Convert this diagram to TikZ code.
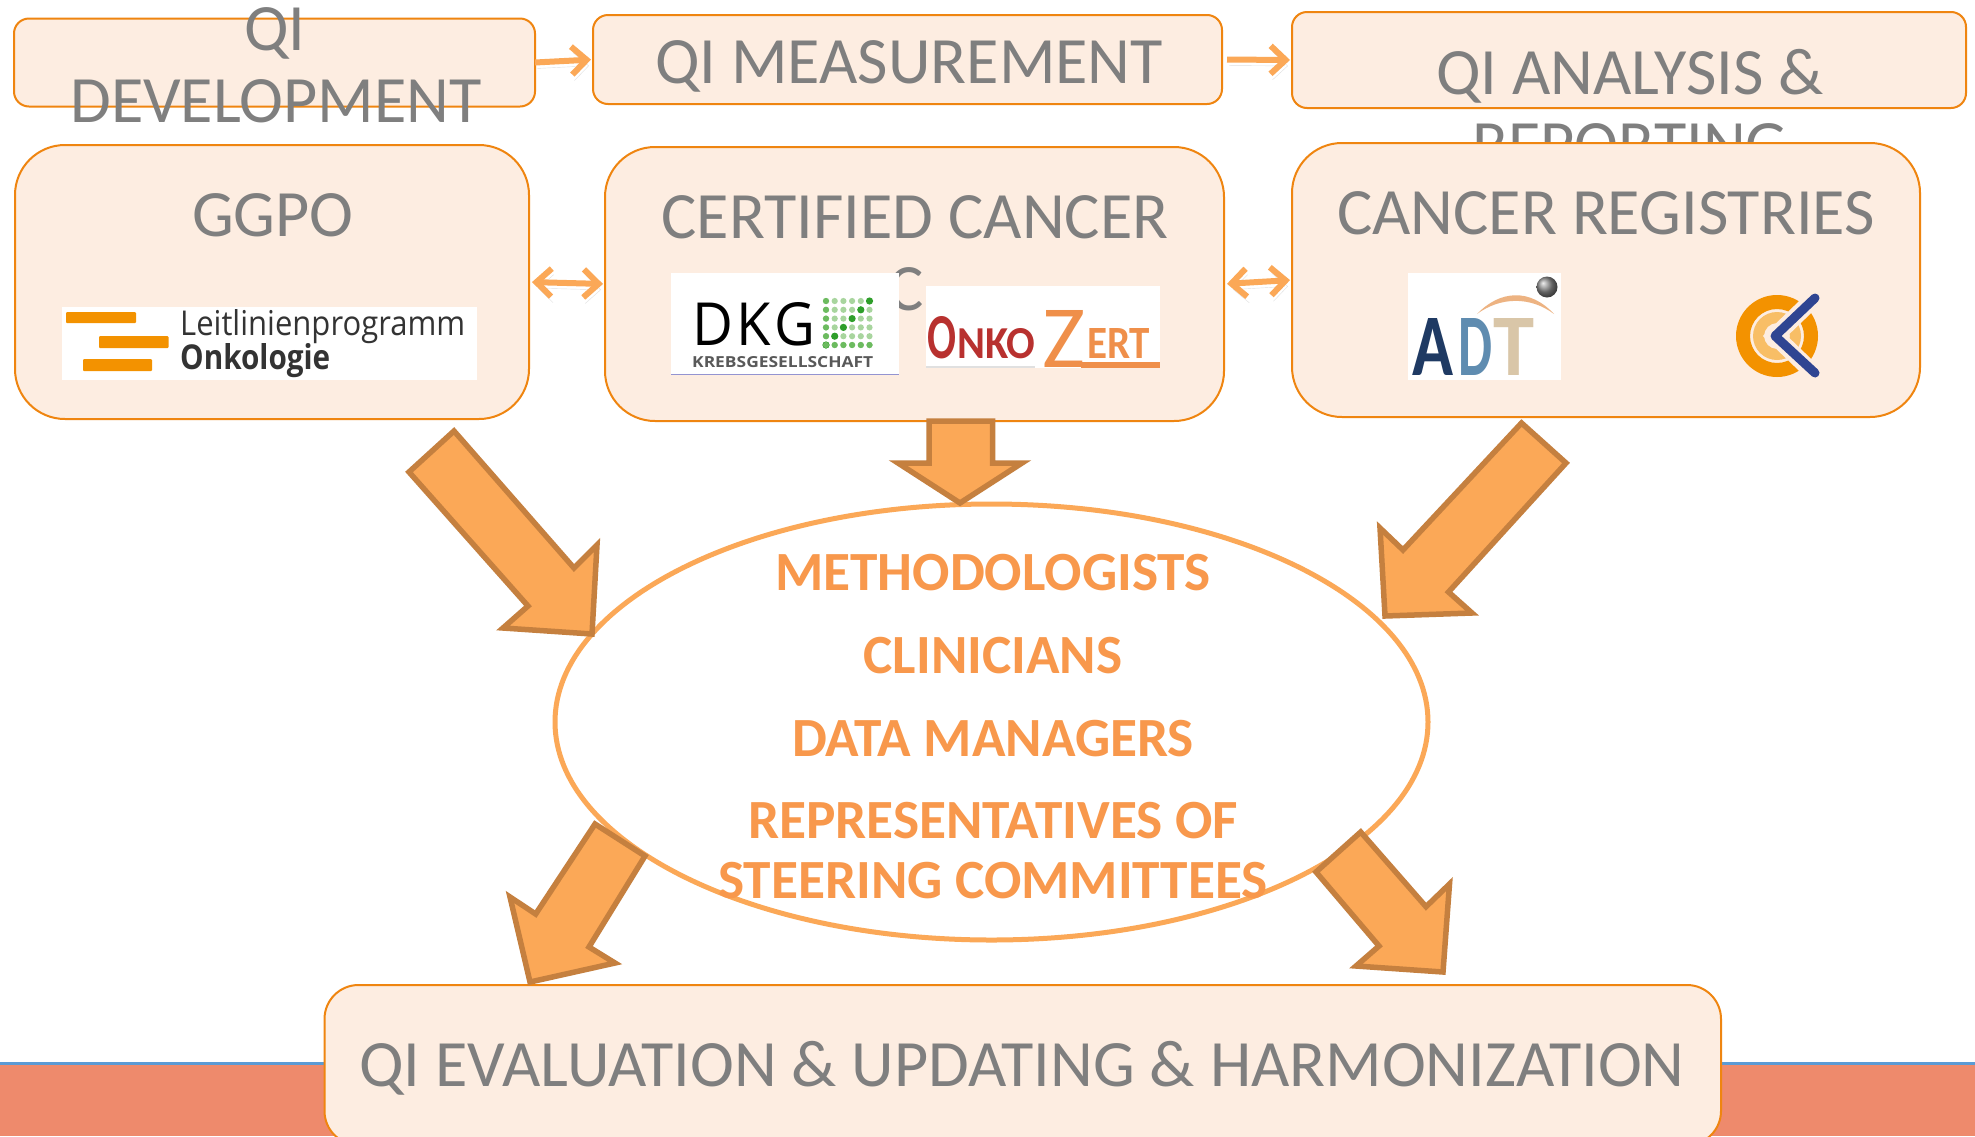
\documentclass[tikz,border=0pt]{standalone}
\usepackage{fontspec}
\setmainfont{Carlito}
\newfontfamily\logofont{Open Sans}
\usetikzlibrary{arrows.meta,shapes.geometric}
\definecolor{boxfill}{HTML}{FDEDE1}
\definecolor{boxline}{HTML}{EF8510}
\definecolor{greytext}{HTML}{7F7F7F}
\definecolor{linkcol}{HTML}{FBA857}
\definecolor{blockfill}{HTML}{FBA857}
\definecolor{blockline}{HTML}{C5803F}
\definecolor{bandcol}{HTML}{EE8A6C}
\definecolor{bandtop}{HTML}{5B9BD5}
\definecolor{elltext}{HTML}{F8984C}
\definecolor{logoor}{HTML}{F39200}
\definecolor{dotlight}{HTML}{A8D59E}
\definecolor{dotmid}{HTML}{6CBB5F}
\definecolor{dotdark}{HTML}{2E9E2A}
\definecolor{ozred}{HTML}{B8312F}
\definecolor{ozor}{HTML}{EF8F4A}
\definecolor{adta}{HTML}{1F3A63}
\definecolor{adtd}{HTML}{5F8CB0}
\definecolor{adtt}{HTML}{D9C6A8}
\definecolor{adtarc}{HTML}{EDB382}
\definecolor{ckblue}{HTML}{2F4592}
\newcommand{\fitto}[3]{\resizebox{#1pt}{#2pt}{#3}}
\tikzset{
  x=1pt,y=-1pt,
  base/.style={draw=boxline,fill=boxfill,line width=2pt,anchor=north west,inner sep=0pt,outer sep=0pt},
  smallbox/.style={base,rounded corners=15pt},
  bigbox/.style={base,rounded corners=50pt},
  evalbox/.style={base,rounded corners=34pt},
  bigtext/.style={text=greytext,inner sep=0pt,font=\fontsize{66.2}{72}\selectfont,anchor=base},
  elllabel/.style={text=elltext,inner sep=0pt,font=\fontsize{55.3}{60}\selectfont\bfseries,anchor=base},
  ftext/.style={inner sep=0pt,anchor=base west},
  shadowed/.style={preaction={draw=black!12,transform canvas={xshift=2pt,yshift=-6pt}}},
  link/.style={draw=linkcol,line width=6pt,shadowed,-{Straight Barb[length=15pt,width=28pt,line width=6pt]},shorten >=2pt},
  dlink/.style={draw=linkcol,line width=6pt,shadowed,{Straight Barb[length=15pt,width=28pt,line width=6pt]}-{Straight Barb[length=15pt,width=28pt,line width=6pt]},shorten >=2pt,shorten <=3pt},
  block/.style={draw=blockline,fill=blockfill,line width=5.5pt,line join=miter},
  whitelogo/.style={fill=white,draw=none}
}
\begin{document}
\begin{tikzpicture}
\useasboundingbox (0,0) rectangle (1975,1136);
\fill[white] (0,0) rectangle (1975,1136);
% band
\fill[bandcol] (0,1063) rectangle (1975,1136);
\draw[bandtop,line width=3pt] (0,1063) -- (1975,1063);
% top row
\node[smallbox,minimum width=521pt,minimum height=88pt] (qidev) at (14,18.5) {};
\node[smallbox,minimum width=629pt,minimum height=89pt] (qimeas) at (593,15) {};
\node[smallbox,minimum width=674pt,minimum height=96pt] (qiana) at (1292,12) {};
\node[bigtext] (tdev1) at (275,50) {QI};
\node[bigtext] (tdev2) at (276,122) {DEVELOPMENT};
\node[bigtext] (tmeas) at (909,83) {QI MEASUREMENT};
\node[bigtext] (tana1) at (1630,94) {QI ANALYSIS \&};
\node[bigtext] (tana2) at (1630,166) {REPORTING};
% second row
\node[bigbox,minimum width=514pt,minimum height=274pt] (ggpo) at (15,145) {};
\node[bigbox,minimum width=619pt,minimum height=274pt] (cert) at (605,147) {};
\node[bigbox,minimum width=628pt,minimum height=274pt] (reg) at (1292,143) {};
\node[bigtext] (tggpo) at (273,236) {GGPO};
\node[bigtext] (tcert) at (915,238) {CERTIFIED CANCER};
\node[bigtext,anchor=base east] (tcert2) at (924,310) {C};
\node[bigtext] (treg) at (1606,234) {CANCER REGISTRIES};
% Leitlinien logo
\node[whitelogo,anchor=north west,minimum width=415pt,minimum height=73pt,inner sep=0pt] (logoll) at (62,307) {};
\fill[logoor,rounded corners=1pt] (66,312) rectangle (136,323);
\fill[logoor,rounded corners=1pt] (99,336) rectangle (168.5,348);
\fill[logoor,rounded corners=1pt] (83,359) rectangle (152,371);
\node[ftext,text=black!80] (tll1) at (180,335) {\fitto{285}{26}{\logofont Leitlinienprogramm}};
\node[ftext,text=black!80] (tll2) at (180,369) {\fitto{150}{26}{\logofont\bfseries Onkologie}};
% DKG logo
\node[whitelogo,anchor=north west,minimum width=228pt,minimum height=101pt,inner sep=0pt] (logodkg) at (671,273) {};
\draw[color=blue!40!gray!60,line width=1pt] (671,374.5) -- (899,374.5);
\node[ftext,text=black] (tdkg) at (692,345) {\fitto{123}{43}{\logofont D\hspace{.06em}K\hspace{.06em}G}};
\node[ftext,text=black!65] (tkrebs) at (692,367) {\fitto{181}{11}{\logofont\bfseries KREBSGESELLSCHAFT}};
\foreach \r in {0,...,5}{\foreach \c in {0,...,5}{
  \pgfmathsetmacro{\px}{826+8.7*\c}\pgfmathsetmacro{\py}{301+8.8*\r}
  \fill[dotlight] (\px,\py) circle (3.1pt);
}}
\foreach \k in {0,...,5}{
  \pgfmathsetmacro{\px}{826}\pgfmathsetmacro{\py}{301+8.8*\k}
  \fill[dotmid] (\px,\py) circle (3.1pt);
  \pgfmathsetmacro{\px}{826+8.7*\k}\pgfmathsetmacro{\py}{345}
  \fill[dotmid] (\px,\py) circle (3.1pt);
  \pgfmathsetmacro{\px}{826+8.7*\k}\pgfmathsetmacro{\py}{301+8.8*(5-\k)}
  \fill[dotdark] (\px,\py) circle (3.6pt);
}
% OnkoZert logo
\node[whitelogo,anchor=north west,minimum width=234pt,minimum height=82pt,inner sep=0pt] (logooz) at (926,286) {};
\fill[black!12] (926,366) rectangle (1035,367.7);
\node[ftext,text=ozred] (toz1) at (927,358) {\fitto{29}{42}{\bfseries O}};
\node[ftext,text=ozred] (toz2) at (957,358) {\fitto{78}{30}{\bfseries NKO}};
\node[ftext,text=ozor] (toz3) at (1042,367.7) {\fitto{43}{57}{Z}};
\node[ftext,text=ozor] (toz4) at (1087,358) {\fitto{63}{30}{\bfseries ERT}};
\fill[ozor] (1081,362) rectangle (1160,367.7);
% ADT logo
\node[whitelogo,anchor=north west,minimum width=153pt,minimum height=107pt,inner sep=0pt] (logoadt) at (1408,273) {};
\node[ftext,text=adta] (tadta) at (1412,375) {\fitto{41}{57}{\bfseries A}};
\node[ftext,text=adtd] (tadtd) at (1458,375) {\fitto{34}{57}{\bfseries D}};
\node[ftext,text=adtt] (tadtt) at (1493,375) {\fitto{41}{57}{\bfseries T}};
\shade[ball color=black!45] (1547,287) circle (10.5pt);
\fill[adtarc] (1477,314) .. controls (1500,290) and (1530,288) .. (1554,314) .. controls (1530,296) and (1500,297) .. (1477,314) -- cycle;
% CK logo
\fill[logoor,even odd rule] (1777,336) circle (41pt) (1777,336) circle (27pt);
\fill[logoor!60!white,even odd rule] (1777,336) circle (24pt) (1777,336) circle (13pt);
\draw[boxfill,line width=17pt,line join=miter] (1825,288) -- (1775,336) -- (1825,384);
\draw[ckblue,line width=9pt,line cap=round,line join=round] (1815,298) -- (1775,336) -- (1815,373);
% ellipse
\node[draw=linkcol,line width=5pt,ellipse,minimum width=873pt,minimum height=436pt,inner sep=0pt,outer sep=0pt] (oval) at (991.5,722) {};
\node[elllabel] (m1) at (993,590) {METHODOLOGISTS};
\node[elllabel] (m2) at (993,673) {CLINICIANS};
\node[elllabel] (m3) at (993,756) {DATA MANAGERS};
\node[elllabel] (m4) at (993,838) {REPRESENTATIVES OF};
\node[elllabel] (m5) at (993,898) {STEERING COMMITTEES};
% evaluation
\node[evalbox,minimum width=1396.5pt,minimum height=160pt] (qieval) at (324.5,985) {};
\node[bigtext] (teval) at (1022,1086) {QI EVALUATION \& UPDATING \& HARMONIZATION};
% links
\draw[link] (qidev.east) -- (qimeas.west);
\draw[link,shorten <=5pt] (qimeas.east) -- (qiana.west);
\draw[dlink] (ggpo.east) -- (cert.west);
\draw[dlink] (cert.east) -- (reg.west);
% block arrows
\draw[block] (454,431) -- (574,568) -- (597,545) -- (592,634) -- (503,628) -- (528,606) -- (409,472) -- cycle;
\draw[block] (929,421) -- (992.5,421) -- (992.5,463) -- (1022,463) -- (960,503) -- (898,463) -- (929,463) -- cycle;
\draw[block] (1521.5,423) -- (1566,463) -- (1448.5,592) -- (1472,613) -- (1385,616) -- (1380,528) -- (1403,550) -- cycle;
\draw[block] (595,824) -- (645,856) -- (589,947) -- (615,963) -- (530,982) -- (510,897) -- (535.7,914) -- cycle;
\draw[block] (1360.7,832) -- (1426,906.7) -- (1449.5,884) -- (1443,972) -- (1356,966) -- (1379,946) -- (1316,872) -- cycle;
\end{tikzpicture}
\end{document}
